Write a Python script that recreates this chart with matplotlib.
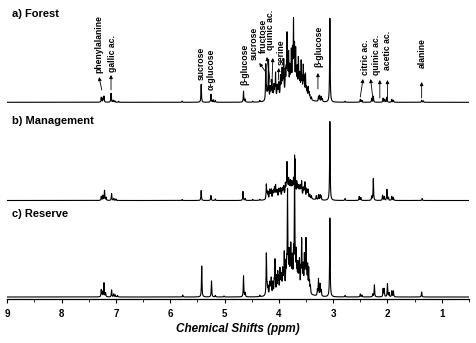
import numpy as np
import matplotlib.pyplot as plt

plt.rcParams['font.family'] = ['Liberation Sans', 'DejaVu Sans']

# peak lists: position (ppm), relative height
forestPpm = [7.27, 7.24, 7.22, 7.09, 7.05, 7.02, 6.95, 5.78, 5.43, 5.25, 5.21, 5.17, 4.65, 4.62, 4.48, 4.35,
             4.24, 4.21, 4.19, 4.16, 4.13, 4.11, 4.09, 4.06, 4.03, 4.00, 3.97, 3.94, 3.91, 3.88, 3.85, 3.82,
             3.80, 3.77, 3.75, 3.73, 3.71, 3.69, 3.66, 3.64, 3.61, 3.59, 3.57, 3.55, 3.53, 3.51, 3.48, 3.46,
             3.43, 3.40, 3.27, 3.25, 3.22, 3.20, 3.06, 2.78, 2.50, 2.47, 2.29, 2.26, 2.08, 2.05, 2.01, 1.92,
             1.89, 1.37, 1.34,
             4.225, 4.145, 4.075, 4.015, 3.955, 3.925, 3.865, 3.835, 3.785, 3.745, 3.715, 3.675, 3.625,
             3.585, 3.535, 3.495, 3.445]
forestInt = [5, 4, 6, 9, 2, 1.5, 1, 1.2, 18, 8, 2.5, 2, 11, 3, 1, 1.5,
             36, 8, 40, 12, 18, 10, 13, 25, 12, 14, 20, 25, 34, 22, 57, 38,
             24, 39, 29, 67, 32, 41, 24, 34, 19, 26, 16, 29, 12, 22, 8, 11,
             4, 3, 5, 6, 5, 3, 84, 1, 3, 2, 4, 6, 4, 3, 5, 3,
             2, 2, 1.5,
             10, 9, 10, 9, 12, 14, 20, 18, 20, 18, 20, 16, 14,
             12, 10, 8, 6]

managementPpm = [7.27, 7.24, 7.21, 7.18, 7.08, 7.04, 7.00, 5.78, 5.43, 5.25, 5.17, 4.66, 4.62, 4.48, 4.35,
                 4.23, 4.20, 4.17, 4.14, 4.11, 4.08, 4.06, 4.03, 4.00, 3.97, 3.94, 3.91, 3.88, 3.85, 3.82,
                 3.79, 3.76, 3.73, 3.70, 3.67, 3.64, 3.61, 3.58, 3.55, 3.52, 3.49, 3.46, 3.43, 3.40,
                 3.31, 3.27, 3.24, 3.22, 3.06, 2.78, 2.52, 2.49, 2.29, 2.26, 2.09, 2.06, 2.01, 1.98,
                 1.92, 1.89, 1.36,
                 4.215, 4.155, 4.095, 4.045, 3.985, 3.925, 3.865, 3.835, 3.805, 3.775, 3.745, 3.715,
                 3.655, 3.625, 3.595, 3.535, 3.475]
managementInt = [4, 5, 10, 3, 7, 2, 1.5, 1, 10, 5, 1.5, 9, 2, 1, 1,
                 15, 7, 9, 9, 7, 10, 12, 7, 8, 8, 7, 9, 11, 31, 14,
                 12, 11, 14, 34, 12, 8, 9, 14, 8, 14, 8, 8, 4, 3,
                 4, 5, 5, 4, 79, 2, 4, 3, 4, 22, 5, 4, 11, 3,
                 4, 3, 2,
                 6, 6, 7, 6, 6, 7, 8, 9, 9, 9, 9, 10,
                 8, 7, 7, 7, 6]

reservePpm = [7.27, 7.25, 7.22, 7.19, 7.08, 7.04, 7.01, 6.97, 5.77, 5.42, 5.24, 5.17, 5.01, 4.65, 4.62, 4.35,
              4.23, 4.20, 4.17, 4.14, 4.11, 4.07, 4.04, 4.02, 3.98, 3.95, 3.93, 3.90, 3.87, 3.84, 3.81,
              3.78, 3.75, 3.73, 3.71, 3.68, 3.65, 3.62, 3.58, 3.55, 3.53, 3.50, 3.47, 3.45, 3.42,
              3.29, 3.27, 3.24, 3.22, 3.06, 2.78, 2.50, 2.47, 2.27, 2.24, 2.08, 2.06, 2.00, 1.97,
              1.92, 1.89, 1.37,
              4.215, 4.155, 4.085, 4.005, 3.965, 3.915, 3.855, 3.825, 3.795, 3.765, 3.695, 3.665,
              3.635, 3.595, 3.565, 3.515, 3.485, 3.435]
reserveInt = [7, 5, 14, 4, 7, 3, 2, 1.5, 2, 31, 16, 1.5, 1, 21, 4, 1.5,
              42, 8, 12, 16, 12, 33, 16, 19, 22, 15, 20, 36, 24, 95, 33,
              40, 28, 33, 128, 33, 23, 28, 48, 23, 33, 49, 25, 23, 7,
              6, 17, 12, 6, 79, 1.5, 3, 2, 3, 12, 8, 8, 13, 4,
              6, 6, 5,
              8, 10, 12, 14, 12, 15, 20, 18, 18, 16, 20, 15,
              14, 18, 15, 20, 15, 10]

# broad background under the sugar region (ppm, height, half width)
humps = {'a': (3.75, 6, 0.22), 'b': (3.75, 5, 0.22), 'c': (3.75, 6, 0.22)}

titles = ['a) Forest', 'b) Management', 'c) Reserve']

# annotations on the top spectrum: label, text x, text bottom, arrows (head, tail)
labels = [
    ('phenylalanine', 7.31, 226, [((7.31, 222), (7.26, 209))]),
    ('gallic ac.', 7.07, 227, [((7.09, 224), (7.09, 209))]),
    ('sucrose', 5.43, 219, []),
    ('\u03b1-glucose', 5.25, 209, []),
    ('\u03b2-glucose', 4.63, 214, []),
    ('sucrose', 4.45, 239, [((4.36, 236), (4.24, 227))]),
    ('fructose', 4.29, 246, [((4.22, 242), (4.16, 217))]),
    ('quinic ac.', 4.15, 249, [((4.11, 241), (4.13, 209))]),
    ('serine', 3.96, 234, [((4.00, 231), (4.01, 219))]),
    ('\u03b2-glucose', 3.26, 232, [((3.28, 226), (3.28, 210))]),
    ('citric ac.', 2.40, 224, [((2.45, 220), (2.50, 202)), ((2.31, 220), (2.27, 201))]),
    ('quinic ac.', 2.20, 224, [((2.14, 219), (2.14, 201))]),
    ('acetic ac.', 2.00, 229, [((2.00, 219), (2.00, 201))]),
    ('alanine', 1.35, 231, [((1.37, 217), (1.37, 201))]),
]

offsets = [196.7, 98.5, 2]
titleY = [285, 178, 85]
width = 0.0055


def spectrum(x, ppm, inten, hump):
    y = np.zeros_like(x)
    for p, h in zip(ppm, inten):
        y += h / (1 + ((x - p) / width) ** 2)
    c, h, w = hump
    y += h * np.exp(-0.5 * ((x - c) / w) ** 2)
    return y


x = np.linspace(9.05, 0.5, 12000)

fig = plt.figure(figsize=(4.76, 3.43), dpi=100)
ax = fig.add_axes([7.3 / 476, 44 / 343, 461.6 / 476, 299 / 343])

series = [(forestPpm, forestInt, humps['a']),
          (managementPpm, managementInt, humps['b']),
          (reservePpm, reserveInt, humps['c'])]
for (ppm, inten, hump), off in zip(series, offsets):
    ax.plot(x, spectrum(x, ppm, inten, hump) + off, color='black', lw=0.8)

for t, ty in zip(titles, titleY):
    ax.text(8.92, ty, t, fontsize=8, fontweight='bold', va='center', ha='left')

for name, tx, ty, arrows in labels:
    ax.text(tx, ty, name, rotation=90, ha='center', va='bottom', fontsize=6.2, fontweight='bold')
    for head, tail in arrows:
        ax.annotate('', xy=head, xytext=tail,
                    arrowprops=dict(arrowstyle='-|>', lw=0.6, color='black',
                                    mutation_scale=5, shrinkA=0, shrinkB=0))

ax.set_xlim(9, 0.5)
ax.set_ylim(0, 299)
ax.set_xticks(np.arange(1, 10))
ax.set_xticks(np.arange(0.5, 9.01, 0.5), minor=True)
ax.tick_params(axis='x', which='major', length=3, width=0.8, labelsize=7, pad=4)
ax.tick_params(axis='x', which='minor', length=2, width=0.6)
for lab in ax.get_xticklabels():
    lab.set_fontweight('bold')
ax.set_yticks([])
for s in ['left', 'top', 'right']:
    ax.spines[s].set_visible(False)
ax.spines['bottom'].set_linewidth(0.9)
ax.set_xlabel('Chemical Shifts (ppm)', fontsize=8.5, fontweight='bold', fontstyle='italic', labelpad=3)

fig.savefig('out.png', dpi=100)
